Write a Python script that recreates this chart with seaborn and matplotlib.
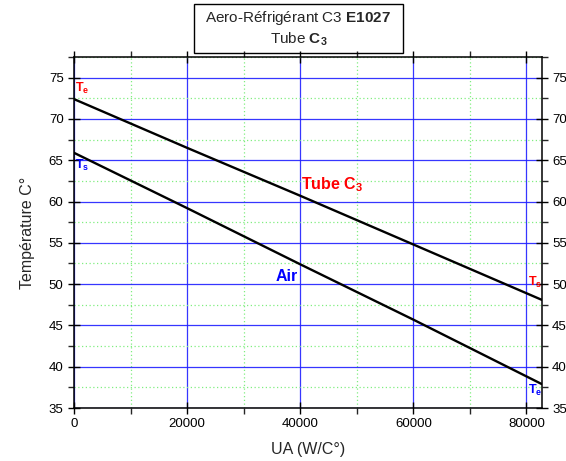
import matplotlib
matplotlib.use("Agg")
import matplotlib.pyplot as plt
from matplotlib.patches import Rectangle
from matplotlib.ticker import MultipleLocator
import seaborn as sns
import pandas as pd

ua = [0, 20000, 40000, 60000, 82700]
tube_temp = [72.4, 66.5, 60.7, 54.8, 48.1]
air_temp = [65.9, 59.2, 52.4, 45.7, 37.9]
series_names = ["Tube C3", "Air"]

df = pd.concat([
    pd.DataFrame({"UA": ua, "T": tube_temp, "s": series_names[0]}),
    pd.DataFrame({"UA": ua, "T": air_temp, "s": series_names[1]}),
])

sns.set_style("ticks")
plt.rcParams["font.family"] = ["Liberation Sans", "DejaVu Sans"]
plt.rcParams["mathtext.fontset"] = "custom"
plt.rcParams["mathtext.rm"] = "Liberation Sans"
plt.rcParams["mathtext.it"] = "Liberation Sans:italic"
plt.rcParams["mathtext.bf"] = "Liberation Sans:bold"

fig = plt.figure(figsize=(5.66, 4.61), dpi=100)
ax = fig.add_axes([74/566, 1-408/461, (541.7-74)/566, (408-57)/461])

sns.lineplot(data=df, x="UA", y="T", hue="s", palette=["black", "black"],
             linewidth=1.7, legend=False, ax=ax, zorder=5)

ax.set_xlim(0, 82700)
ax.set_ylim(35, 77.5)
ax.xaxis.set_major_locator(MultipleLocator(20000))
ax.xaxis.set_minor_locator(MultipleLocator(10000))
ax.yaxis.set_major_locator(MultipleLocator(5))
ax.yaxis.set_minor_locator(MultipleLocator(2.5))

ax.grid(which="major", color="#2020ff", linewidth=0.9, linestyle="-", alpha=0.9)
ax.grid(which="minor", color="#80ee80", linewidth=0.9, linestyle=(0, (1, 2)))
ax.set_axisbelow(True)

for sp in ax.spines.values():
    sp.set_linewidth(1.1)
    sp.set_color("black")

ax.tick_params(which="major", direction="inout", length=8, width=1,
               top=True, right=True, labelright=True, labelsize=9.5, colors="black")
ax.tick_params(which="minor", direction="out", length=4, width=1,
               top=True, right=True)

ax.set_xlabel("UA (W/C°)", fontsize=11.5, labelpad=8)
ax.set_ylabel("Température C°", fontsize=11.5, labelpad=10)

# annotations
ax.text(40200, 62.0, r"Tube C$_\mathbf{3}$", color="red", fontsize=11.5,
        fontweight="bold", va="center", ha="left")
ax.text(37700, 50.9, "Air", color="blue", fontsize=11.5,
        fontweight="bold", va="center", ha="center")
ax.text(200, 73.7, r"T$_\mathbf{e}$", color="red", fontsize=9,
        fontweight="bold", va="center", ha="left")
ax.text(200, 64.4, r"T$_\mathbf{s}$", color="blue", fontsize=9,
        fontweight="bold", va="center", ha="left")
ax.text(80200, 50.2, r"T$_\mathbf{s}$", color="red", fontsize=9,
        fontweight="bold", va="center", ha="left")
ax.text(80200, 37.1, r"T$_\mathbf{e}$", color="blue", fontsize=9,
        fontweight="bold", va="center", ha="left")

# title box
fig.patches.append(Rectangle((194/566, 1-53/461), (403-194)/566, (53-4)/461,
                             transform=fig.transFigure, fill=False,
                             edgecolor="black", linewidth=1.0))
fig.text(298.5/566, 1-18/461, r"Aero-Réfrigérant C3 $\mathbf{E1027}$",
         ha="center", va="center", fontsize=11)
fig.text(298.5/566, 1-39/461, r"Tube $\mathbf{C}_{\mathbf{3}}$",
         ha="center", va="center", fontsize=11)

fig.savefig("out.png", dpi=100)
